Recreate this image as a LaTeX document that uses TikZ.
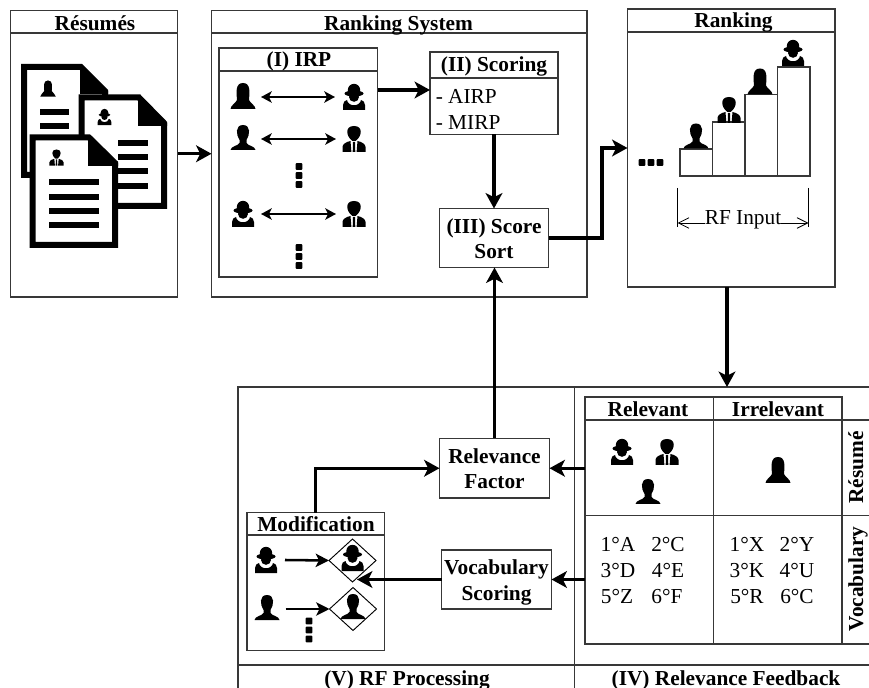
\documentclass[tikz,border=0pt]{standalone}
\usepackage{fontspec}
\setmainfont{Liberation Serif}
\usetikzlibrary{arrows.meta,shapes.geometric,calc}
\definecolor{boxc}{gray}{0.22}
\newcommand{\twolines}[2]{\fontsize{16}{19}\selectfont\bfseries\raisebox{0pt}[\dimexpr\height+4.4pt\relax][\depth]{\begin{tabular}{@{}c@{}}#1\\#2\end{tabular}}}
\tikzset{
  ln/.style={draw=boxc,line width=0.8pt},
  bx/.style 2 args={ln,fill=white,rectangle,minimum width=#1*0.75pt,minimum height=#2*0.75pt,inner sep=0pt,outer sep=0pt,anchor=north west},
  ttl/.style={font=\fontsize{16}{19}\selectfont\bfseries,inner sep=0pt,anchor=base},
  txt/.style={font=\fontsize{16}{19}\selectfont,inner sep=0pt,anchor=base},
  arr/.style={line width=2.4pt,draw=black,miter limit=10,-{Stealth[length=11.5pt,width=12.5pt,inset=3pt]}},
  dbl/.style={line width=1.5pt,draw=black,{Stealth[length=8pt,width=8.5pt,inset=2pt]}-{Stealth[length=8pt,width=8.5pt,inset=2pt]}},
  thin arr/.style={line width=0.6pt,draw=black,-{Straight Barb[length=8pt,width=8pt]}},
  small arr/.style={line width=1.9pt,draw=black,-{Stealth[length=10pt,width=10pt,inset=2.5pt]}},
  dm/.style={draw=black,line width=0.7pt,fill=white,shape=diamond,inner sep=0pt,outer sep=0pt,minimum width=47*0.75pt,minimum height=43*0.75pt},
  barline/.style={line width=4.5pt,draw=black},
  womanA/.pic={
    \fill[black] (-6,4) .. controls (-6.5,-3) and (-8,-13) .. (0,-13) .. controls (8,-13) and (6.5,-3) .. (6,4)
      .. controls (8,8) and (12,9) .. (12.5,13) -- (-12.5,13) .. controls (-12,9) and (-8,8) .. (-6,4) -- cycle;
  },
  manP/.pic={
    \fill[black] (-3.5,2) .. controls (-7,-3) and (-8,-13) .. (0,-13) .. controls (8,-13) and (7,-3) .. (3.5,2)
      -- (3.5,5) .. controls (5,8) and (12,8) .. (12.5,12) -- (-12.5,12) .. controls (-12,8) and (-5,8) .. (-3.5,5) -- cycle;
  },
  womanB/.pic={
    \fill[black] (0,-7) circle [radius=6.2];
    \fill[black] (0,-3.5) ellipse [x radius=9.5,y radius=3];
    \fill[black] (0,0) ellipse [x radius=5,y radius=4.8];
    \fill[black] (-11,13) -- (-11,8) .. controls (-11,5) and (-9,3.5) .. (-7,3) .. controls (-6,10) and (6,10) .. (7,3)
      .. controls (9,3.5) and (11,5) .. (11,8) -- (11,13) -- cycle;
  },
  manC/.pic={
    \fill[black] (0,-13) .. controls (-9.5,-13) and (-8,-2.5) .. (-1.5,2) -- (1.5,2) .. controls (8,-2.5) and (9.5,-13) .. (0,-13) -- cycle;
    \fill[black] (-11.5,13) -- (-11.5,8) .. controls (-11.5,5) and (-8,3) .. (-3.5,2) -- (-2.6,13) -- cycle;
    \fill[black] (11.5,13) -- (11.5,8) .. controls (11.5,5) and (8,3) .. (3.5,2) -- (2.6,13) -- cycle;
    \fill[black] (-1,3) -- (1,3) -- (1.3,13) -- (-1.3,13) -- cycle;
  },
  vdotsic/.pic={
    \foreach \d in {-9,0,9}{\fill[black,rounded corners=0.6pt] (-3.4,\d-3.3) rectangle (3.4,\d+3.3);}
  },
  hdotsic/.pic={
    \foreach \d in {-9,0,9}{\fill[black,rounded corners=0.6pt] (\d-3.3,-3.4) rectangle (\d+3.3,3.4);}
  },
}
\newcommand{\hdr}[2]{\draw[ln] (#1.west |- 0,#2) -- (#1.east |- 0,#2);}
\newcommand{\docpage}[6]{%
  \draw[line width=4.5pt,fill=white,miter limit=10] (#1,#2) -- (#5,#2) -- (#3,#6) -- (#3,#4) -- (#1,#4) -- cycle;
  \fill[black] (#5-1,#2-2) -- (#5+1,#2-2) -- (#3+3,#6) -- (#3+3,#6+3) -- (#5-1,#6+3) -- cycle;
}
\begin{document}
\begin{tikzpicture}[x=0.75pt,y=-0.75pt]
\useasboundingbox (0,0) rectangle (869,688);
\fill[white] (0,0) rectangle (869,688);
\clip (0,0) rectangle (869,688);
% helper rows
\coordinate (y90) at (0,90);
\coordinate (x727) at (727,0);
\coordinate (elbow) at (602,148);
\coordinate (tip) at (357,580);
\coordinate (y223) at (0,223);

% main boxes
\node[bx={167}{286.5}] (resumes) at (10.5,10.5) {};
\node[bx={375.5}{286.5}] (ranksys) at (211.5,10.5) {};
\node[bx={158.5}{229}] (irp) at (219,48) {};
\node[bx={128}{82.5}] (scoring) at (430,52) {};
\node[bx={109}{59}] (sort) at (439.5,208.5) {\twolines{(III) Score}{Sort}};
\node[bx={207.5}{278}] (rnk) at (627.5,9) {};
\node[bx={336.5}{320}] (vbox) at (238,387) {};
\node[bx={340}{320}] (ivbox) at (574.5,387) {};
\node[bx={110}{59.5}] (relf) at (439.5,438.5) {\twolines{Relevance}{Factor}};
\node[bx={110}{59}] (vocab) at (441.5,550) {\twolines{Vocabulary}{Scoring}};
\node[bx={137.5}{138}] (mod) at (247,512.5) {};
\node[bx={257}{247}] (tbl) at (585,397) {};

\hdr{resumes}{33}
\hdr{ranksys}{33}
\hdr{irp}{71}
\hdr{scoring}{78}
\hdr{rnk}{32}
\hdr{vbox}{665}
\hdr{ivbox}{665}
\hdr{mod}{535}

% titles
\node[ttl] (tRes) at (95,31) {Résumés};
\node[ttl] (tSys) at (398.5,31) {Ranking System};
\node[ttl] (tIrp) at (299,66.5) {(I) IRP};
\node[ttl] (tSco) at (494,71.5) {(II) Scoring};
\node[ttl] (tRnk) at (733.5,27.5) {Ranking};
\node[ttl] (tMod) at (316,532) {Modification};
\node[ttl] (tV) at (407,685) {(V) RF Processing};
\node[ttl] (tIV) at (726,685) {(IV) Relevance Feedback};
\node[txt,anchor=base west] (airp) at (435.5,104) {- AIRP};
\node[txt,anchor=base west] (mirp) at (435.5,129.3) {- MIRP};

% documents
\docpage{24}{67}{105}{175}{81}{91}
\foreach \yy in {112.5,126.5}{\draw[barline] (40,\yy) -- (69,\yy);}
\pic[scale=0.62] at (48,88.5) {womanA};
\docpage{81.5}{97.5}{164}{206}{139}{123}
\foreach \yy in {143,157,171.5,186}{\draw[barline] (118,\yy) -- (148,\yy);}
\pic[scale=0.62] at (104.5,117) {womanB};
\docpage{32.5}{137.5}{115}{245}{89}{163}
\foreach \yy in {182.5,197,211,225.5}{\draw[barline] (49,\yy) -- (99,\yy);}
\pic[scale=0.62] at (56.5,157.5) {manC};

% IRP content
\pic at (243,96) {womanA};
\pic at (354,97) {womanB};
\pic at (243,138) {manP};
\pic at (354,139) {manC};
\pic at (243,214) {womanB};
\pic at (354,214) {manC};
\coordinate (p1a) at (261,97); \coordinate (p1b) at (335,97);
\coordinate (p2a) at (261,139); \coordinate (p2b) at (336,139);
\coordinate (p3a) at (261,214); \coordinate (p3b) at (336,214);
\draw[dbl] (p1a) -- (p1b);
\draw[dbl] (p2a) -- (p2b);
\draw[dbl] (p3a) -- (p3b);
\pic at (299,175.5) {vdotsic};
\pic at (299,256.5) {vdotsic};

% ranking steps
\node[bx={32.5}{27}] (st1) at (680,149) {};
\node[bx={32.5}{54}] (st2) at (712.5,122) {};
\node[bx={32.5}{81.5}] (st3) at (745,94.5) {};
\node[bx={32.5}{109}] (st4) at (777.5,67) {};
\pic at (696,136.5) {manP};
\pic at (729,110) {manC};
\pic at (760,81.5) {womanA};
\pic at (793,53) {womanB};
\pic at (651,162.5) {hdotsic};
\node[txt] (rfi) at (743,225) {RF Input};
\coordinate (tl1) at (677.5,188); \coordinate (tl2) at (677.5,227);
\coordinate (tr1) at (808.5,188); \coordinate (tr2) at (808.5,227);
\draw[line width=0.6pt] (tl1) -- (tl2);
\draw[line width=0.6pt] (tr1) -- (tr2);
\draw[thin arr] (rfi.west |- y223) -- (tl1 |- y223);
\draw[thin arr] (rfi.east |- y223) -- (tr1 |- y223);

% modification content
\node[dm] (d1) at (352.5,560.5) {};
\node[dm] (d2) at (353,609) {};
\pic at (266,560) {womanB};
\pic at (267,608) {manP};
\pic at (352.5,558) {womanB};
\pic at (353,607) {manP};
\pic at (309,630) {vdotsic};
\coordinate (m1) at (285,560);
\coordinate (m2) at (285.5,609);
\draw[small arr] (m1) -- (d1.west);
\draw[small arr] (m2) -- (d2.west);

% table
\coordinate (tm) at (713.5,0);
\draw[ln] (tm |- tbl.north) -- (tm |- tbl.south);
\draw[ln] (tbl.west |- 0,420) -- (869,420);
\draw[ln] (tbl.west |- 0,515.5) -- (869,515.5);
\draw[ln] (tbl.south east) -- (869,644);
\node[ttl] (tRel) at (648,416.7) {Relevant};
\node[ttl] (tIrr) at (778,416.7) {Irrelevant};
\node[ttl,rotate=90] (tRe) at (863,467.5) {Résumé};
\node[ttl,rotate=90] (tVo) at (863,579) {Vocabulary};
\pic at (622,452) {womanB};
\pic at (667,452) {manC};
\pic at (648,492) {manP};
\pic at (778,470) {womanA};
\node[txt] (c11) at (618,551.7) {1°A};
\node[txt] (c12) at (668,551.7) {2°C};
\node[txt] (c13) at (618,577.3) {3°D};
\node[txt] (c14) at (668,577.3) {4°E};
\node[txt] (c15) at (617,603.3) {5°Z};
\node[txt] (c16) at (667,603.3) {6°F};
\node[txt] (c21) at (747,551.7) {1°X};
\node[txt] (c22) at (797,551.7) {2°Y};
\node[txt] (c23) at (747,577.3) {3°K};
\node[txt] (c24) at (797,577.3) {4°U};
\node[txt] (c25) at (747,603.3) {5°R};
\node[txt] (c26) at (797,603.3) {6°C};

% connectors
\draw[arr] (resumes.east) -- (ranksys.west);
\draw[arr] (irp.east |- y90) -- (scoring.west |- y90);
\draw[arr] (scoring.south) -- (sort.north);
\draw[arr] (sort.east) -| (elbow) -- (rnk.west);
\draw[arr] (x727 |- rnk.south) -- (x727 |- ivbox.north);
\draw[arr] (relf.north) -- (relf.north |- sort.south);
\draw[arr] (tbl.west |- relf.east) -- (relf.east);
\draw[arr] (tbl.west |- vocab.east) -- (vocab.east);
\draw[arr] (vocab.west) -- (tip |- vocab.west);
\draw[arr] (mod.north) |- (relf.west);
\end{tikzpicture}
\end{document}
